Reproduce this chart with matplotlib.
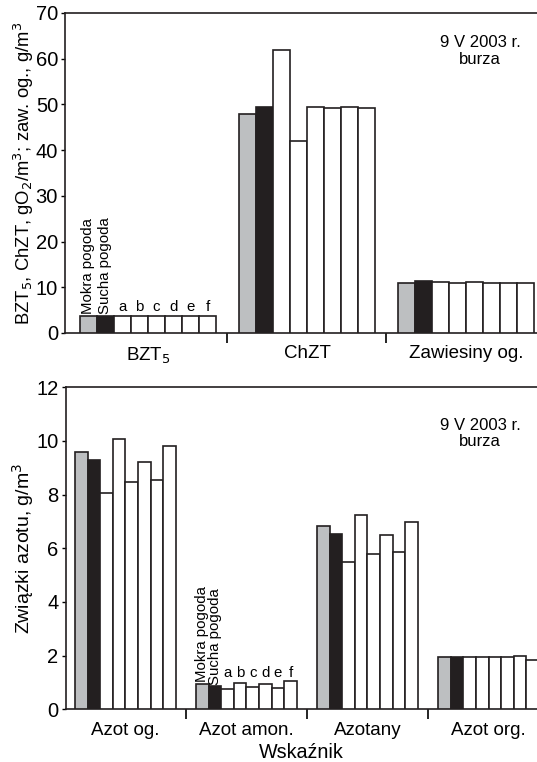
import matplotlib.pyplot as plt
import numpy as np

plt.rcParams['font.family'] = ['Liberation Sans', 'DejaVu Sans']

series = ['Mokra pogoda', 'Sucha pogoda', 'a', 'b', 'c', 'd', 'e', 'f']
colors = ['#bdbfc1', '#231f20', 'white', 'white', 'white', 'white', 'white', 'white']

# top panel
top_groups = ['BZT$_5$', 'ChZT', 'Zawiesiny og.']
bzt5 = [3.8, 3.8, 3.8, 3.8, 3.8, 3.8, 3.8, 3.8]
chzt = [48.0, 49.5, 62.0, 42.0, 49.4, 49.2, 49.4, 49.2]
zawiesiny = [10.9, 11.3, 11.2, 10.9, 11.2, 10.9, 10.9, 10.9]

# bottom panel
bot_groups = ['Azot og.', 'Azot amon.', 'Azotany', 'Azot org.']
azot_og = [9.60, 9.30, 8.06, 10.06, 8.48, 9.22, 8.53, 9.81]
azot_amon = [0.94, 0.86, 0.77, 0.97, 0.84, 0.93, 0.80, 1.06]
azotany = [6.83, 6.53, 5.49, 7.25, 5.80, 6.48, 5.88, 6.99]
azot_org = [1.93, 1.93, 1.93, 1.93, 1.93, 1.93, 2.00, 1.83]

fig = plt.figure(figsize=(5.37, 7.62), dpi=100)
ax1 = fig.add_axes([0.121, 0.563, 0.879, 0.42])
ax2 = fig.add_axes([0.122, 0.0692, 0.878, 0.4225])


def draw(ax, groups, data, w, ymax, ystep, label_group, label_y, xlim, note_y):
    for i, vals in enumerate(data):
        x = i + (np.arange(8) - 3.5) * w
        ax.bar(x, vals, width=w, color=colors, edgecolor='#231f20', linewidth=1.2, zorder=3)
        if i == label_group:
            for j, name in enumerate(series):
                if j < 2:
                    ax.text(x[j], vals[j] + ymax * 0.005, name, rotation=90, ha='center',
                            va='bottom', fontsize=10.8)
                else:
                    ax.text(x[j], label_y, name, ha='center', va='bottom', fontsize=10.8)
    ax.set_xlim(*xlim)
    ax.set_ylim(0, ymax)
    ax.set_yticks(np.arange(0, ymax + 0.1, ystep))
    ax.tick_params(axis='y', labelsize=14.5, length=3, width=1, direction='out', pad=2)
    ax.set_xticks(np.arange(len(groups) - 1) + 0.5)
    ax.set_xticklabels([])
    ax.tick_params(axis='x', length=7, width=1.2, direction='out')
    ax.set_xticks(np.arange(len(groups)), minor=True)
    ax.set_xticklabels(groups, minor=True, fontsize=13.5)
    ax.tick_params(axis='x', which='minor', length=0, pad=9)
    ax.spines['right'].set_visible(False)
    for s in ['left', 'top', 'bottom']:
        ax.spines[s].set_linewidth(1.2)
        ax.spines[s].set_color('#231f20')
    ax.text(0.879, note_y, '9 V 2003 r.\nburza', transform=ax.transAxes, ha='center',
            va='top', fontsize=12, linespacing=1.1)


draw(ax1, top_groups, [bzt5, chzt, zawiesiny], 0.107, 70, 10, 0, 4.2,
     (-0.522, 2.447), 0.93)
draw(ax2, bot_groups, [azot_og, azot_amon, azotany, azot_org], 0.104, 12, 2, 1, 1.1,
     (-0.494, 3.40), 0.905)

ax1.set_ylabel('BZT$_5$, ChZT, gO$_2$/m$^3$; zaw. og., g/m$^3$', fontsize=13.3, labelpad=0)
ax2.set_ylabel('Związki azotu, g/m$^3$', fontsize=14, labelpad=0)
ax2.set_xlabel('Wskaźnik', fontsize=14.2, labelpad=3)

fig.savefig('out.png', dpi=100)
